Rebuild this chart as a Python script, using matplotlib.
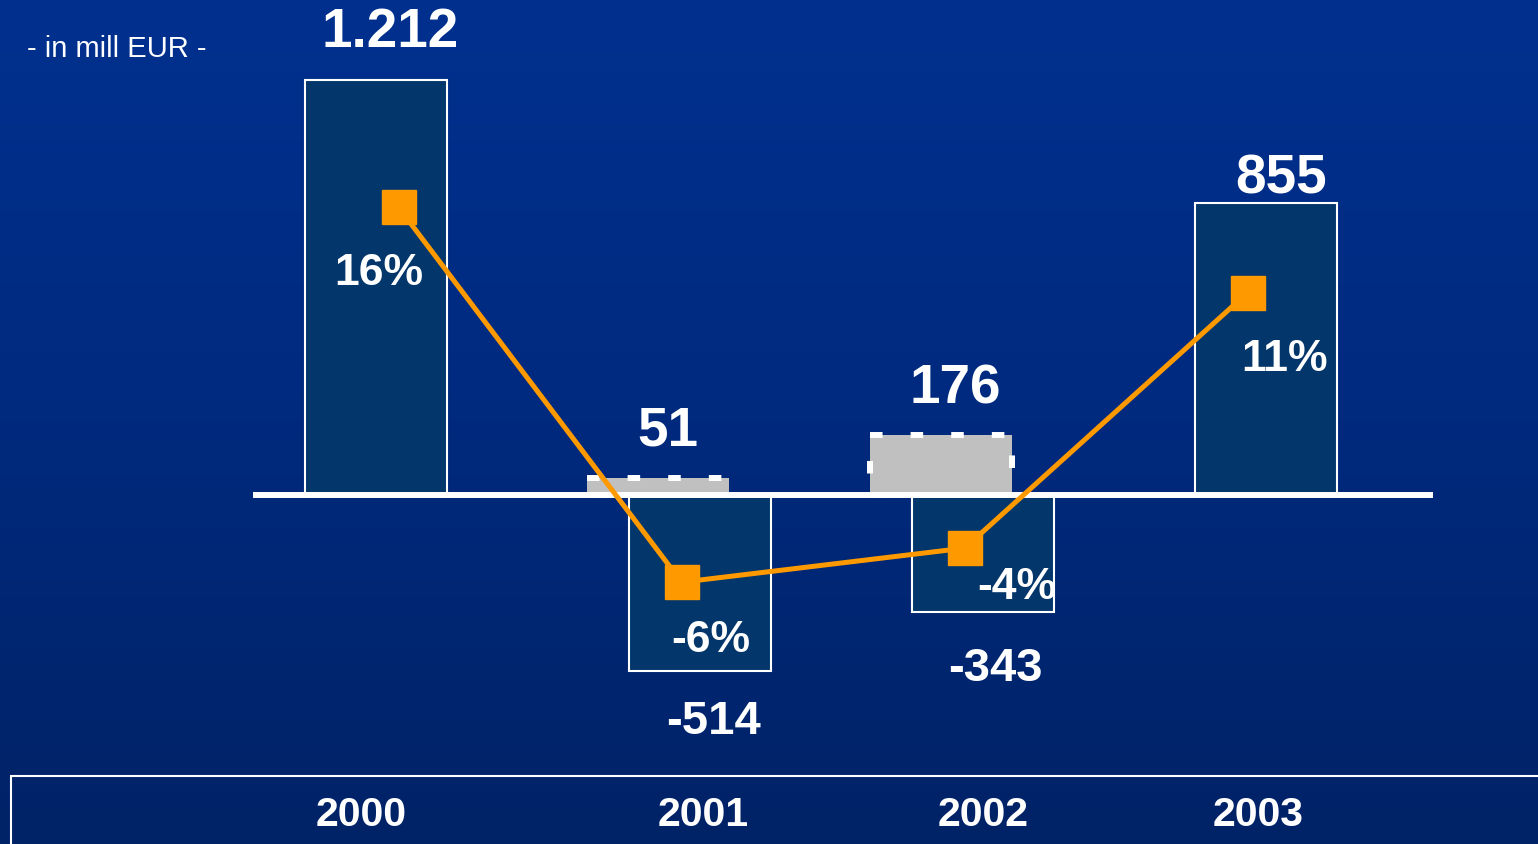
import numpy as np
import matplotlib.pyplot as plt
from matplotlib.colors import LinearSegmentedColormap
from matplotlib.patches import Rectangle

# data (mill EUR and margin in %)
years = ["2000", "2001", "2002", "2003"]
result = [1212, -514, -343, 855]
grey_years = ["2001", "2002"]
grey_vals = [51, 176]
margin_pct = [16, -6, -4, 11]

# layout: label offsets in pixels (dx, dy) from the bar end / marker
res_off = [(14, 34), (13, -62), (12, -68), (15, 10)]
grey_off = [(10, 33), (14, 32)]
pct_off = [(-20, -77), (29, -69), (52, -50), (37, -77)]
year_off = [-15, 3, 0, -8]

plt.rcParams['font.family'] = ['Liberation Sans', 'DejaVu Sans']

fig = plt.figure(figsize=(15.38, 8.45), dpi=100)

# background gradient
bg = fig.add_axes([0, 0, 1, 1])
cmap = LinearSegmentedColormap.from_list("bg", ["#00308f", "#002a7e", "#002266"])
bg.imshow(np.linspace(0, 1, 256).reshape(-1, 1), aspect='auto', cmap=cmap,
          extent=[0, 1, 0, 1])
bg.axis('off')

# bars
ax = fig.add_axes([0, 0, 1, 1], facecolor='none')
pos = np.arange(len(years)) + np.array([0, 0.145, 0.145, 0.145])
gi = [years.index(y) for y in grey_years]
gpos = pos[gi] - 0.148

ax.bar(pos, result, width=0.5, color='#03366a', edgecolor='white',
       linewidth=1.5, zorder=2)
gbars = ax.bar(gpos, grey_vals, width=0.5, color='#c0c0c0', linewidth=0,
               zorder=1.5)
# dashed outline, clockwise from the top-left corner
for r in gbars:
    x0, w, h = r.get_x(), r.get_width(), r.get_height()
    ax.plot([x0, x0 + w, x0 + w, x0, x0], [h, h, 0, 0, h], color='white',
            lw=4.3, linestyle=(0, (2.1, 4.7)), solid_capstyle='butt',
            zorder=1.6)
ax.axhline(0, xmin=256 / 1538, xmax=1430 / 1538, color='white', lw=4.3, zorder=3)

ax.set_xlim(-1.3286, 4.106)
ax.set_ylim(-1020, 1450)
ax.axis('off')

def fmt(v):
    return f"{v:,}".replace(",", ".")

for x, v, (dx, dy) in zip(pos, result, res_off):
    ax.annotate(fmt(v), (x, v), xytext=(dx, dy), textcoords='offset pixels',
                ha='center', va='baseline', color='white',
                fontsize=39.5 if v > 0 else 34, fontweight='bold', zorder=5)
for x, v, (dx, dy) in zip(gpos, grey_vals, grey_off):
    ax.annotate(fmt(v), (x, v), xytext=(dx, dy), textcoords='offset pixels',
                ha='center', va='baseline', color='white', fontsize=39.5,
                fontweight='bold', zorder=5)

# year labels in the bottom box
for x, y, dx in zip(pos, years, year_off):
    ax.annotate(y, (x, 0.0225), xycoords=('data', 'axes fraction'),
                xytext=(dx, 0), textcoords='offset pixels',
                ha='center', va='baseline', color='white', fontsize=29.5,
                fontweight='bold')

# margin line on its own scale
ax2 = fig.add_axes([0, 0, 1, 1], facecolor='none')
lx = np.arange(len(years)) + 0.08
ax2.plot(lx, margin_pct, color='#ff9900', lw=3.6, marker='s', ms=24.5,
         zorder=3)
for x, p, (dx, dy) in zip(lx, margin_pct, pct_off):
    ax2.annotate(f"{p}%", (x, p), xytext=(dx, dy), textcoords='offset pixels',
                 ha='center', va='baseline', color='white', fontsize=32,
                 fontweight='bold', zorder=5)
ax2.set_xlim(-1.3286, 4.106)
ax2.set_ylim(-21.37, 28.24)
ax2.axis('off')

fig.text(27 / 1538, 1 - 57 / 845, "- in mill EUR -", color='white',
         fontsize=21, ha='left', va='baseline')
fig.patches.append(Rectangle((11 / 1538, -0.1), 1.1, 0.1 + 1 - 777 / 845,
                             transform=fig.transFigure, fill=False,
                             edgecolor='white', lw=1.5))

fig.savefig("out.png", dpi=100)
